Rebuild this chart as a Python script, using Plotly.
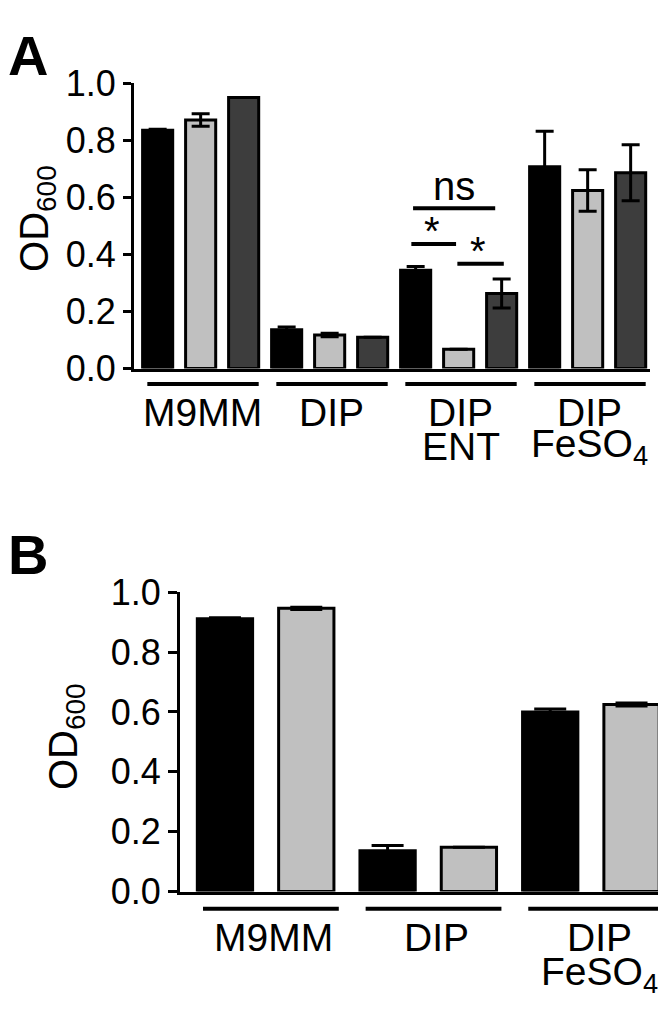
import plotly.graph_objects as go

W, H = 666, 1012
FONT = "Liberation Sans, Arial, sans-serif"

# ---------------- Panel A data ----------------
a_conditions = ["M9MM", "DIP", "DIP<br>ENT", "DIP<br>FeSO<sub>4</sub>"]
a_black = [0.835, 0.136, 0.345, 0.707]
a_black_err = [0.004, 0.010, 0.013, 0.125]
a_gray = [0.871, 0.118, 0.068, 0.624]
a_gray_err = [0.022, 0.006, 0.0, 0.073]
a_dark = [0.950, 0.110, 0.263, 0.686]
a_dark_err = [0.0, 0.0, 0.051, 0.098]

# ---------------- Panel B data ----------------
b_conditions = ["M9MM", "DIP", "DIP<br>FeSO<sub>4</sub>"]
b_black = [0.911, 0.136, 0.600]
b_black_err = [0.004, 0.018, 0.010]
b_gray = [0.946, 0.148, 0.625]
b_gray_err = [0.004, 0.0, 0.005]

y_ticks = [0.0, 0.2, 0.4, 0.6, 0.8, 1.0]
y_title = "OD<sub>600</sub>"

BLACK = "#000000"
GRAY = "#c0c0c0"
DARK = "#3d3d3d"


def px_x(p):
    return p / W


def px_y(p):
    return 1 - p / H


fig = go.Figure()

# Panel A bars
a_series = [(a_black, a_black_err, BLACK), (a_gray, a_gray_err, GRAY), (a_dark, a_dark_err, DARK)]
na = len(a_series)
for s, (vals, errs, col) in enumerate(a_series):
    fig.add_trace(go.Bar(
        x=[g * na + s for g in range(len(vals))], y=vals, width=0.70,
        marker=dict(color=col, line=dict(color="black", width=3)),
        error_y=dict(type="data", array=errs, visible=True, color="black", thickness=3, width=9),
        xaxis="x", yaxis="y", showlegend=False, hoverinfo="skip"))

# Panel B bars
b_series = [(b_black, b_black_err, BLACK), (b_gray, b_gray_err, GRAY)]
nb = len(b_series)
for s, (vals, errs, col) in enumerate(b_series):
    fig.add_trace(go.Bar(
        x=[g * nb + s for g in range(len(vals))], y=vals, width=0.68,
        marker=dict(color=col, line=dict(color="black", width=3)),
        error_y=dict(type="data", array=errs, visible=True, color="black", thickness=3, width=16),
        xaxis="x2", yaxis="y2", showlegend=False, hoverinfo="skip"))

axis_common = dict(showline=True, linecolor="black", linewidth=3, showgrid=False, zeroline=False)
yaxis_common = dict(axis_common, range=[0, 1.0], tickvals=y_ticks, tickformat=".1f",
                    ticks="outside", tickwidth=3, tickcolor="black",
                    tickfont=dict(family=FONT, size=36, color="black"))

fig.update_layout(
    width=W, height=H, margin=dict(l=0, r=0, t=0, b=0),
    paper_bgcolor="white", plot_bgcolor="white",
    xaxis=dict(axis_common, domain=[px_x(126), px_x(642)], range=[-0.55, 11.45],
               showticklabels=False, ticks="", anchor="y"),
    yaxis=dict(yaxis_common, domain=[px_y(355), px_y(57.5)], ticklen=8, anchor="x"),
    xaxis2=dict(axis_common, domain=[px_x(172), px_x(665)], range=[-0.553, 5.51],
                showticklabels=False, ticks="", anchor="y2"),
    yaxis2=dict(yaxis_common, domain=[px_y(900), px_y(588)], ticklen=9, anchor="x2"),
)

shapes = []
annotations = []

# Panel A group underlines and labels
for g, lab in enumerate(a_conditions):
    shapes.append(dict(type="line", xref="x", yref="paper",
                       x0=g * na - 0.24, x1=g * na + 2.35, y0=px_y(371), y1=px_y(371),
                       line=dict(color="black", width=4)))
    for k, line in enumerate(lab.split("<br>")):
        annotations.append(dict(text=line, xref="x", yref="paper", x=g * na + 1.05,
                                y=px_y(401 + 35 * k), xanchor="center", yanchor="middle",
                                showarrow=False, font=dict(family=FONT, size=39, color="black")))

# Panel B group underlines and labels
for g, lab in enumerate(b_conditions):
    shapes.append(dict(type="line", xref="x2", yref="paper",
                       x0=g * nb - 0.27, x1=g * nb + 1.40, y0=px_y(918), y1=px_y(918),
                       line=dict(color="black", width=4)))
    for k, line in enumerate(lab.split("<br>")):
        annotations.append(dict(text=line, xref="x2", yref="paper", x=g * nb + 0.6,
                                y=px_y(948 + 38 * k), xanchor="center", yanchor="middle",
                                showarrow=False, font=dict(family=FONT, size=39, color="black")))

# Significance brackets (panel A, DIP ENT group)
sig = [
    ("ns", 5.94, 7.85, 0.562),
    ("*", 5.90, 6.94, 0.437),
    ("*", 6.97, 8.05, 0.367),
]
for txt, xa, xb, yv in sig:
    shapes.append(dict(type="line", xref="x", yref="y", x0=xa, x1=xb, y0=yv, y1=yv,
                       line=dict(color="black", width=4)))
    if txt == "ns":
        annotations.append(dict(text=txt, xref="x", yref="y", x=(xa + xb) / 2, y=yv,
                                xanchor="center", yanchor="bottom", yshift=-2, showarrow=False,
                                font=dict(family=FONT, size=40, color="black")))
    else:
        annotations.append(dict(text=txt, xref="x", yref="y", x=(xa + xb) / 2 - 0.05, y=yv,
                                xanchor="center", yanchor="bottom", yshift=-11, showarrow=False,
                                font=dict(family=FONT, size=40, color="black")))

# Y titles
annotations.append(dict(text=y_title, xref="paper", yref="paper", x=px_x(29), y=px_y(198),
                        xanchor="center", yanchor="middle", textangle=-90, showarrow=False,
                        font=dict(family=FONT, size=40, color="black")))
annotations.append(dict(text=y_title, xref="paper", yref="paper", x=px_x(58), y=px_y(738),
                        xanchor="center", yanchor="middle", textangle=-90, showarrow=False,
                        font=dict(family=FONT, size=40, color="black")))

# Panel letters
annotations.append(dict(text="<b>A</b>", xref="paper", yref="paper", x=px_x(-2), y=px_y(-6),
                        xanchor="left", yanchor="top", showarrow=False,
                        font=dict(family=FONT, size=56, color="black")))
annotations.append(dict(text="<b>B</b>", xref="paper", yref="paper", x=px_x(-2), y=px_y(514),
                        xanchor="left", yanchor="top", showarrow=False,
                        font=dict(family=FONT, size=56, color="black")))

fig.update_layout(shapes=shapes, annotations=annotations)
fig.write_html("out.html")
